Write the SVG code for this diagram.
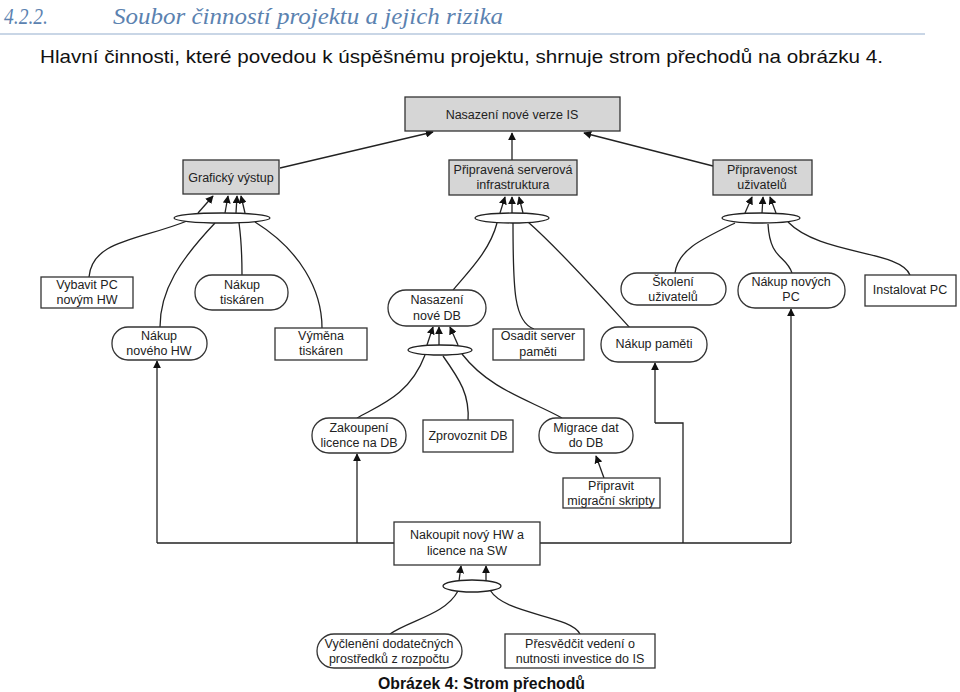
<svg xmlns="http://www.w3.org/2000/svg" width="960" height="692" viewBox="0 0 960 692">
<defs>
<marker id="ah" viewBox="0 0 10 10" refX="9" refY="5" markerWidth="8" markerHeight="8" markerUnits="userSpaceOnUse" orient="auto">
<path d="M0,0 L10,5 L0,10 z" fill="#111"/>
</marker>
<style>
.hd{font-family:"Liberation Serif",serif;font-style:italic;fill:#5b82b0;font-size:24px}
.body{font-family:"Liberation Sans",Arial,sans-serif;font-size:19px;fill:#111}
.cap{font-family:"Liberation Sans",Arial,sans-serif;font-size:17px;font-weight:bold;fill:#111}
.t{font-family:"Liberation Sans",Arial,sans-serif;font-size:12.5px;fill:#222;text-anchor:middle}
.g{fill:#d6d6d6;stroke:#333;stroke-width:1.3}
.w{fill:#fff;stroke:#333;stroke-width:1.3}
.e{fill:#fff;stroke:#222;stroke-width:1.3}
.c{fill:none;stroke:#222;stroke-width:1.3}
.a{fill:none;stroke:#222;stroke-width:1.3;marker-end:url(#ah)}
</style>
</defs>
<rect width="960" height="692" fill="#fff"/>
<text class="hd" x="4" y="24" textLength="44" lengthAdjust="spacingAndGlyphs">4.2.2.</text>
<text class="hd" x="113" y="24" textLength="390" lengthAdjust="spacingAndGlyphs">Soubor činností projektu a jejich rizika</text>
<line x1="0" y1="34" x2="925" y2="34" stroke="#c9d6e6" stroke-width="2"/>
<text class="body" x="40" y="63" textLength="843" lengthAdjust="spacingAndGlyphs">Hlavní činnosti, které povedou k úspěšnému projektu, shrnuje strom přechodů na obrázku 4.</text>

<g id="connectors">
<path class="a" d="M280,168 L433,132"/>
<path class="a" d="M512,160 L512,133"/>
<path class="a" d="M713,166 L584,133"/>
<path class="a" d="M198,213 L213,196"/>
<path class="a" d="M225,213 L228,196"/>
<path class="a" d="M236,213 L237,196"/>
<path class="a" d="M245,213 L241,196"/>
<path class="a" d="M500,213 L505,197"/>
<path class="a" d="M512,213 L512,197"/>
<path class="a" d="M523,213 L519,197"/>
<path class="a" d="M745,213 L752,197"/>
<path class="a" d="M762,213 L763,197"/>
<path class="a" d="M776,213 L770,197"/>
<path class="a" d="M427,345 L433,327"/>
<path class="a" d="M439,345 L439,327"/>
<path class="a" d="M458,345 L450,327"/>
<path class="a" d="M459,581 L461,566"/>
<path class="a" d="M486,581 L486,566"/>
<path class="c" d="M187,221 C140,240 92,240 89,277"/>
<path class="c" d="M215,223 C180,260 160,290 160,327"/>
<path class="c" d="M239,223 C242,245 242,260 242,275"/>
<path class="c" d="M255,222 C300,250 322,290 322,328"/>
<path class="c" d="M497,223 C490,250 470,270 453,290"/>
<path class="c" d="M513,223 C513,290 514,322 534,329"/>
<path class="c" d="M528,222 C560,250 600,295 630,328"/>
<path class="c" d="M735,223 C700,240 678,250 675,273"/>
<path class="c" d="M768,224 C770,260 786,255 792,273"/>
<path class="c" d="M788,222 C820,255 900,250 910,275"/>
<path class="c" d="M425,355 C410,395 380,405 357,418"/>
<path class="c" d="M443,356 C460,380 470,395 468,422"/>
<path class="c" d="M462,354 C490,390 530,400 562,418"/>
<path class="c" d="M458,591 C445,615 410,620 390,634"/>
<path class="c" d="M490,590 C505,615 570,615 580,634"/>
<path class="a" d="M604,478 L596,456"/>
<path class="c" d="M394,543 L157,543"/>
<path class="a" d="M157,543 L157,361"/>
<path class="a" d="M357,543 L357,454"/>
<path class="c" d="M540,543 L791,543"/>
<path class="a" d="M791,543 L791,309"/>
<path class="c" d="M683,543 L683,423 L655,423"/>
<path class="a" d="M655,423 L655,363"/>
</g>

<g id="and1"><ellipse class="e" cx="222" cy="218" rx="48" ry="5"/></g>
<g id="and2"><ellipse class="e" cx="512" cy="218" rx="37" ry="5"/></g>
<g id="and3"><ellipse class="e" cx="761" cy="218" rx="39" ry="5"/></g>
<g id="and4"><ellipse class="e" cx="440" cy="350" rx="32" ry="5"/></g>
<g id="and5"><ellipse class="e" cx="472" cy="586" rx="29" ry="6"/></g>

<g id="n-root"><rect class="g" x="405" y="97" width="215" height="34"/><text class="t" x="512" y="119">Nasazení nové verze IS</text></g>
<g id="n-graf"><rect class="g" x="183" y="160" width="96" height="34"/><text class="t" x="231" y="182">Grafický výstup</text></g>
<g id="n-server"><rect class="g" x="449" y="160" width="128" height="35"/><text class="t" x="513" y="174">Připravená serverová</text><text class="t" x="513" y="189">infrastruktura</text></g>
<g id="n-uziv"><rect class="g" x="713" y="160" width="99" height="35"/><text class="t" x="762" y="174">Připravenost</text><text class="t" x="762" y="189">uživatelů</text></g>

<g id="n-vybavit"><rect class="w" x="41" y="277" width="92" height="31"/><text class="t" x="87" y="289">Vybavit PC</text><text class="t" x="87" y="304">novým HW</text></g>
<g id="n-nakuptisk"><rect class="w" x="195" y="275" width="93" height="35" rx="17"/><text class="t" x="242" y="289">Nákup</text><text class="t" x="242" y="304">tiskáren</text></g>
<g id="n-nakuphw"><rect class="w" x="112" y="327" width="95" height="33" rx="16"/><text class="t" x="159" y="340">Nákup</text><text class="t" x="159" y="355">nového HW</text></g>
<g id="n-vymena"><rect class="w" x="275" y="328" width="92" height="32"/><text class="t" x="321" y="340">Výměna</text><text class="t" x="321" y="355">tiskáren</text></g>

<g id="n-db"><rect class="w" x="388" y="290" width="98" height="36" rx="18"/><text class="t" x="437" y="304">Nasazení</text><text class="t" x="437" y="320">nové DB</text></g>
<g id="n-osadit"><rect class="w" x="493" y="329" width="91" height="31"/><text class="t" x="538" y="340">Osadit server</text><text class="t" x="538" y="356">paměti</text></g>
<g id="n-pamet"><rect class="w" x="601" y="327" width="106" height="35" rx="17"/><text class="t" x="654" y="348">Nákup paměti</text></g>

<g id="n-skoleni"><rect class="w" x="621" y="273" width="105" height="32" rx="16"/><text class="t" x="673" y="286">Školení</text><text class="t" x="673" y="301">uživatelů</text></g>
<g id="n-nakuppc"><rect class="w" x="738" y="273" width="107" height="35" rx="17"/><text class="t" x="791" y="286">Nákup nových</text><text class="t" x="791" y="301">PC</text></g>
<g id="n-instal"><rect class="w" x="865" y="275" width="91" height="31"/><text class="t" x="910" y="294">Instalovat PC</text></g>

<g id="n-licence"><rect class="w" x="312" y="418" width="94" height="35" rx="17"/><text class="t" x="359" y="432">Zakoupení</text><text class="t" x="359" y="447">licence na DB</text></g>
<g id="n-zprov"><rect class="w" x="423" y="420" width="90" height="32"/><text class="t" x="468" y="440">Zprovoznit DB</text></g>
<g id="n-migrace"><rect class="w" x="539" y="418" width="94" height="35" rx="17"/><text class="t" x="586" y="432">Migrace dat</text><text class="t" x="586" y="447">do DB</text></g>
<g id="n-skripty"><rect class="w" x="563" y="478" width="97" height="30"/><text class="t" x="611" y="490">Připravit</text><text class="t" x="611" y="505">migrační skripty</text></g>

<g id="n-nakoupit"><rect class="w" x="394" y="522" width="146" height="43"/><text class="t" x="467" y="539">Nakoupit nový HW a</text><text class="t" x="467" y="555">licence na SW</text></g>
<g id="n-vycleneni"><rect class="w" x="317" y="634" width="145" height="34" rx="17"/><text class="t" x="389" y="648">Vyčlenění dodatečných</text><text class="t" x="389" y="663">prostředků z rozpočtu</text></g>
<g id="n-presvedcit"><rect class="w" x="505" y="634" width="150" height="34"/><text class="t" x="580" y="648">Přesvědčit vedení o</text><text class="t" x="580" y="663">nutnosti investice do IS</text></g>

<text class="cap" x="378" y="689" textLength="207" lengthAdjust="spacingAndGlyphs">Obrázek 4: Strom přechodů</text>
</svg>
